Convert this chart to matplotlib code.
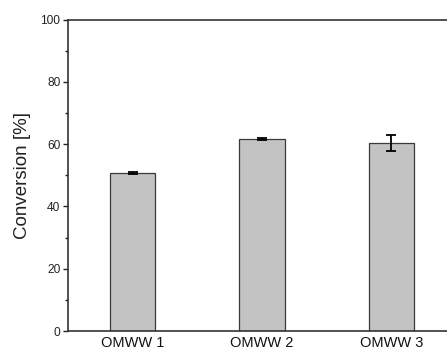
import matplotlib
matplotlib.use("Agg")
import matplotlib.pyplot as plt
from matplotlib.ticker import MultipleLocator

categories = ["OMWW 1", "OMWW 2", "OMWW 3"]
conversion = [50.8, 61.6, 60.4]
errors = [0.3, 0.4, 2.6]

plt.rcParams['font.family'] = ['Liberation Sans', 'DejaVu Sans']

fig = plt.figure(figsize=(4.47, 3.5), dpi=100)
ax = fig.add_axes([68/447, 1-331/350, (456-68)/447, (331-19.7)/350])

x = list(range(1, len(categories)+1))
ax.bar(x, conversion, width=0.35, color="#c3c3c3", edgecolor="#3a3a3a", linewidth=0.9, zorder=2)
ax.errorbar(x, conversion, yerr=errors, fmt="none", ecolor="black", elinewidth=1.3,
            capsize=3.5, capthick=1.3, zorder=3)

ax.set_xlim(0.5, 3.5)
ax.set_ylim(0, 100)
ax.set_xticks(x)
ax.set_xticklabels(categories, fontsize=10.5)
ax.yaxis.set_major_locator(MultipleLocator(20))
ax.yaxis.set_minor_locator(MultipleLocator(10))
ax.tick_params(axis='y', which='major', length=3.5, width=1, direction='out', labelsize=8.6, pad=2, colors="#222222")
ax.tick_params(axis='y', which='minor', length=2, width=1, direction='out', colors="#222222")
ax.tick_params(axis='x', which='major', length=0, pad=3.5, colors="#111111")
ax.set_ylabel("Conversion [%]", fontsize=13.5, labelpad=7, color="#222222")
for s in ax.spines.values():
    s.set_linewidth(1.2)
    s.set_color("#333333")

fig.savefig("out.png", dpi=100)
